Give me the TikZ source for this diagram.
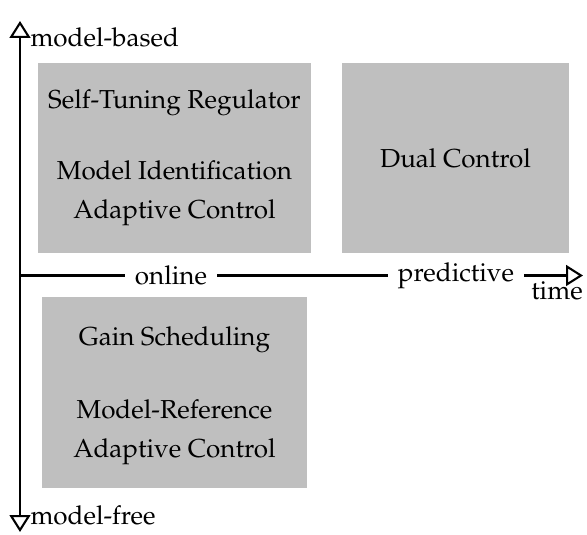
\documentclass[tikz,border=0pt]{standalone}
\usepackage[T1]{fontenc}
\usepackage{mathpazo}
\usetikzlibrary{arrows.meta}

\definecolor{boxgray}{gray}{0.75}

\tikzset{
  axis/.style={line width=0.8pt, -{Triangle[open, length=6.5pt, width=8pt, fill=white]}},
  region/.style={fill=boxgray, draw=none},
  regtext/.style={align=center, font=\fontsize{10}{15}\selectfont, inner sep=0pt},
  axlabel/.style={font=\fontsize{10}{12}\selectfont, inner sep=0pt},
  onaxis/.style={font=\fontsize{10}{12}\selectfont, fill=white, inner xsep=4pt, inner ysep=0.5pt},
}

\begin{document}
\begin{tikzpicture}[x=0.3846pt, y=-0.3846pt]
  \useasboundingbox (0,0) rectangle (587,535);

  % shaded regions
  \fill[region] (38,63) rectangle (311,253);
  \fill[region] (342,63) rectangle (569,253);
  \fill[region] (42,297) rectangle (307,488);

  \node[regtext] (str) at (174.5,158)
    {Self-Tuning Regulator\\[12.5pt]Model Identification\\Adaptive Control};
  \node[regtext] (dual) at (455.5,158) {Dual Control};
  \node[regtext] (gain) at (174.5,395.5)
    {Gain Scheduling\\[13pt]Model-Reference\\Adaptive Control};

  % axes
  \coordinate (top) at (20,21);
  \coordinate (bottom) at (20,532);
  \coordinate (origin) at (20,275.5);
  \coordinate (right) at (583,275.5);

  \draw[axis] (origin) -- (top);
  \draw[axis] (origin) -- (bottom);
  \draw[axis] (origin) -- (right);

  \node[onaxis] (online) at (171,275.5) {online};
  \node[onaxis] (predictive) at (456,275.5) {predictive};

  \node[axlabel, anchor=base west] (mb) at (30,46.5) {model-based};
  \node[axlabel, anchor=base west] (mf) at (30,524.5) {model-free};
  \node[axlabel, anchor=base] (time) at (557,300) {time};
\end{tikzpicture}
\end{document}
